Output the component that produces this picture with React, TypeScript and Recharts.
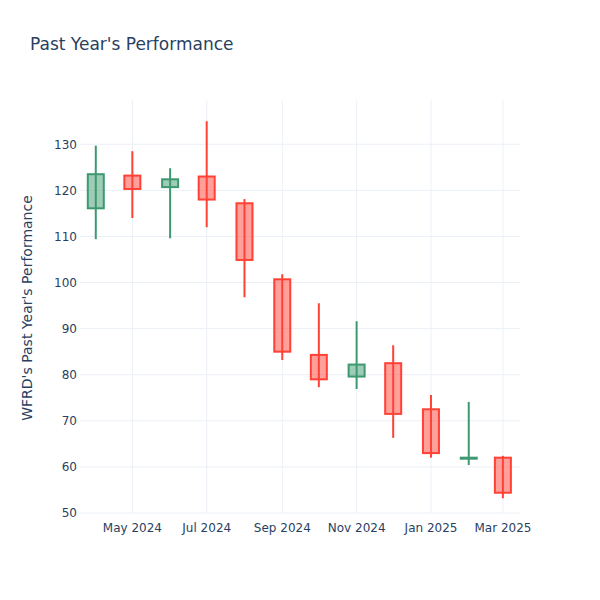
import { Bar, CartesianGrid, ComposedChart, XAxis, YAxis } from 'recharts';

const months = [
  '2024-04-01', '2024-05-01', '2024-06-01', '2024-07-01', '2024-08-01', '2024-09-01',
  '2024-10-01', '2024-11-01', '2024-12-01', '2025-01-01', '2025-02-01', '2025-03-01',
];
const openValues = [116.1, 123.2, 120.7, 123.0, 117.2, 100.7, 84.3, 79.6, 82.5, 72.5, 61.8, 62.0];
const highValues = [129.7, 128.5, 124.8, 135.0, 118.1, 101.8, 95.5, 91.6, 86.4, 75.6, 74.1, 62.4];
const lowValues = [109.4, 114.0, 109.6, 112.0, 96.8, 83.2, 77.3, 76.9, 66.3, 62.0, 60.4, 53.2];
const closeValues = [123.5, 120.3, 122.4, 118.0, 104.9, 85.0, 79.0, 82.2, 71.5, 63.0, 62.0, 54.4];

const xTicks = ['2024-05-01', '2024-07-01', '2024-09-01', '2024-11-01', '2025-01-01', '2025-03-01'];
const yTicks = [50, 60, 70, 80, 90, 100, 110, 120, 130];
const monthNames = ['Jan', 'Feb', 'Mar', 'Apr', 'May', 'Jun', 'Jul', 'Aug', 'Sep', 'Oct', 'Nov', 'Dec'];

const data = months.map((m, i) => ({
  t: Date.parse(m),
  open: openValues[i],
  high: highValues[i],
  low: lowValues[i],
  close: closeValues[i],
  range: [lowValues[i], highValues[i]],
}));

const xTickValues = xTicks.map((s) => Date.parse(s));
const xDomain = [Date.UTC(2024, 2, 19), Date.UTC(2025, 2, 15)];
const yDomain = [50, 139.6];

const UP = '#3D9970';
const DOWN = '#FF4136';
const FONT = '"DejaVu Sans", Verdana, sans-serif';
const TEXT = '#2a3f5f';

function Candle(props: any) {
  const { x, y, width, height, payload } = props;
  if (!payload) return null;
  const { open, close, high, low } = payload;
  const top = Math.min(y, y + height);
  const h = Math.abs(height);
  const ratio = h / (high - low);
  const yOpen = top + (high - open) * ratio;
  const yClose = top + (high - close) * ratio;
  const up = close >= open;
  const color = up ? UP : DOWN;
  const cx = x + width / 2;
  const bodyTop = Math.min(yOpen, yClose);
  const bodyH = Math.max(Math.abs(yOpen - yClose), 1);
  return (
    <g>
      <line x1={cx} x2={cx} y1={top} y2={top + h} stroke={color} strokeWidth={2} />
      <rect
        x={x}
        y={bodyTop}
        width={width}
        height={bodyH}
        fill={color}
        fillOpacity={0.5}
        stroke={color}
        strokeWidth={2}
      />
    </g>
  );
}

const fmtDate = (v: number) => {
  const d = new Date(v);
  return `${monthNames[d.getUTCMonth()]} ${d.getUTCFullYear()}`;
};

// grid only at the tick values, no border lines round the plot
const hGrid = ({ offset }: any) =>
  yTicks.map(
    (v) => offset.top + ((yDomain[1] - v) / (yDomain[1] - yDomain[0])) * offset.height,
  );
const vGrid = ({ offset }: any) =>
  xTickValues.map(
    (v) => offset.left + ((v - xDomain[0]) / (xDomain[1] - xDomain[0])) * offset.width,
  );

export default function App() {
  return (
    <div style={{ position: 'absolute', left: 0, top: 0, width: 600, height: 600, background: '#fff' }}>
      <div
        style={{
          position: 'absolute',
          left: 30,
          top: 34,
          fontFamily: FONT,
          fontSize: 17,
          color: TEXT,
        }}
      >
        Past Year's Performance
      </div>
      <ComposedChart
        width={600}
        height={600}
        data={data}
        margin={{ top: 100, right: 80, bottom: 57, left: 0 }}
      >
        <CartesianGrid
          stroke="#EBF0F8"
          strokeWidth={1}
          horizontalCoordinatesGenerator={hGrid}
          verticalCoordinatesGenerator={vGrid}
        />
        <XAxis
          dataKey="t"
          type="number"
          scale="time"
          domain={xDomain}
          ticks={xTickValues}
          tickFormatter={fmtDate}
          axisLine={false}
          tickLine={false}
          tickSize={0}
          tickMargin={10}
          tick={{ fill: TEXT, fontSize: 12, fontFamily: FONT }}
        />
        <YAxis
          type="number"
          domain={yDomain}
          ticks={yTicks}
          width={80}
          axisLine={false}
          tickLine={false}
          tickSize={0}
          tickMargin={3}
          tick={{ fill: TEXT, fontSize: 12, fontFamily: FONT }}
          label={{
            content: () => (
              <text
                x={32}
                y={308}
                transform="rotate(-90 32 308)"
                textAnchor="middle"
                fill={TEXT}
                fontSize={14}
                fontFamily={FONT}
              >
                WFRD's Past Year's Performance
              </text>
            ),
          }}
        />
        <Bar dataKey="range" barSize={16} shape={Candle} isAnimationActive={false} />
      </ComposedChart>
    </div>
  );
}
